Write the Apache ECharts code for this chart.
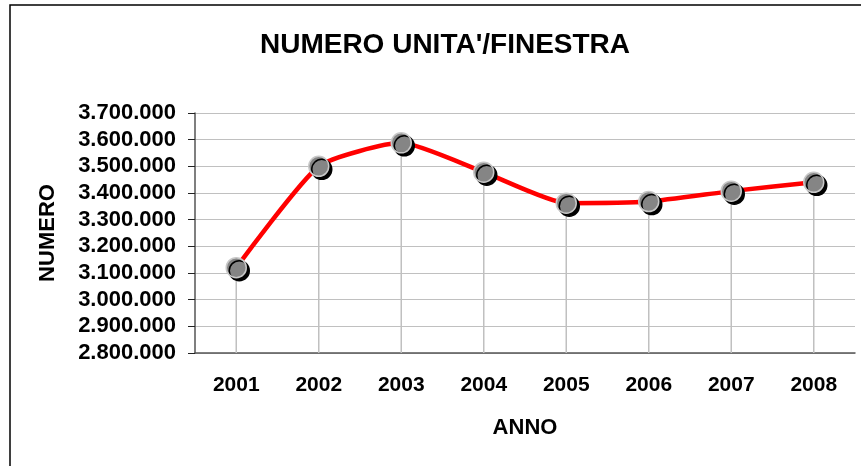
<!DOCTYPE html>
<html>
<head>
  <meta charset="UTF-8">
  <title>NUMERO UNITA'/FINESTRA</title>
  <script src="https://cdn.jsdelivr.net/npm/echarts@6/dist/echarts.min.js"></script>
</head>
<body style="margin:0">
  <div id="chart" style="width: 861px; height:466px"></div>
  <script>
    // dati
    var anni = ['2001', '2002', '2003', '2004', '2005', '2006', '2007', '2008'];
    var numero = [3120000, 3500000, 3588000, 3478000, 3362000, 3368000, 3407000, 3440000];

    // 3700000 -> 3.700.000
    function puntini(v) {
      return String(v).replace(/\B(?=(\d{3})+(?!\d))/g, '.');
    }

    var myChart = echarts.init(document.getElementById('chart'));
    var option = {
      backgroundColor: '#fff',
      animation: false,
      graphic: [{
        type: 'rect',
        shape: { x: 10, y: 5, width: 900, height: 500 },
        style: { fill: 'none', stroke: '#000', lineWidth: 1.5 },
        silent: true
      }],
      title: {
        text: "NUMERO UNITA'/FINESTRA",
        left: 440,
        top: 26,
        textAlign: 'center',
        textStyle: {
          fontFamily: 'Liberation Sans',
          fontSize: 28,
          fontWeight: 'bold',
          color: '#000'
        }
      },
      grid: { left: 195, right: 6, top: 113, bottom: 113 },
      xAxis: {
        type: 'category',
        data: anni,
        name: 'ANNO',
        nameLocation: 'middle',
        nameGap: 64,
        nameTextStyle: { fontFamily: 'Liberation Sans', fontSize: 22, fontWeight: 'bold', color: '#000' },
        axisLine: { lineStyle: { color: '#555', width: 1.5 } },
        axisTick: { alignWithLabel: false, length: 7, lineStyle: { color: '#222' } },
        axisLabel: { margin: 22, fontFamily: 'Liberation Sans', fontSize: 21, fontWeight: 'bold', color: '#000' },
        splitLine: { show: false }
      },
      yAxis: {
        type: 'value',
        min: 2800000,
        max: 3700000,
        interval: 100000,
        name: 'NUMERO',
        nameLocation: 'middle',
        nameGap: 136,
        nameTextStyle: { fontFamily: 'Liberation Sans', fontSize: 22, fontWeight: 'bold', color: '#000' },
        axisLine: { show: true, lineStyle: { color: '#555', width: 1.5 } },
        axisTick: { show: true, length: 7, lineStyle: { color: '#222' } },
        axisLabel: {
          margin: 19,
          fontFamily: 'Liberation Sans',
          fontSize: 22,
          fontWeight: 'bold',
          color: '#000',
          formatter: puntini
        },
        splitLine: { lineStyle: { color: '#c0c0c0', width: 1 } }
      },
      series: [
        {
          // linee verticali di riferimento
          type: 'bar',
          data: numero,
          barWidth: 1.5,
          silent: true,
          z: 1,
          itemStyle: { color: '#c0c0c0' }
        },
        {
          type: 'line',
          data: numero,
          smooth: 0.18,
          z: 3,
          lineStyle: { color: '#ff0000', width: 4.5 },
          symbol: 'circle',
          symbolSize: 20,
          itemStyle: {
            color: '#858585',
            borderColor: '#c8c8c8',
            borderWidth: 1.5,
            shadowColor: '#000',
            shadowOffsetX: 3,
            shadowOffsetY: 3,
            shadowBlur: 0
          }
        }
      ]
    };
    myChart.setOption(option);
  </script>
</body>
</html>
